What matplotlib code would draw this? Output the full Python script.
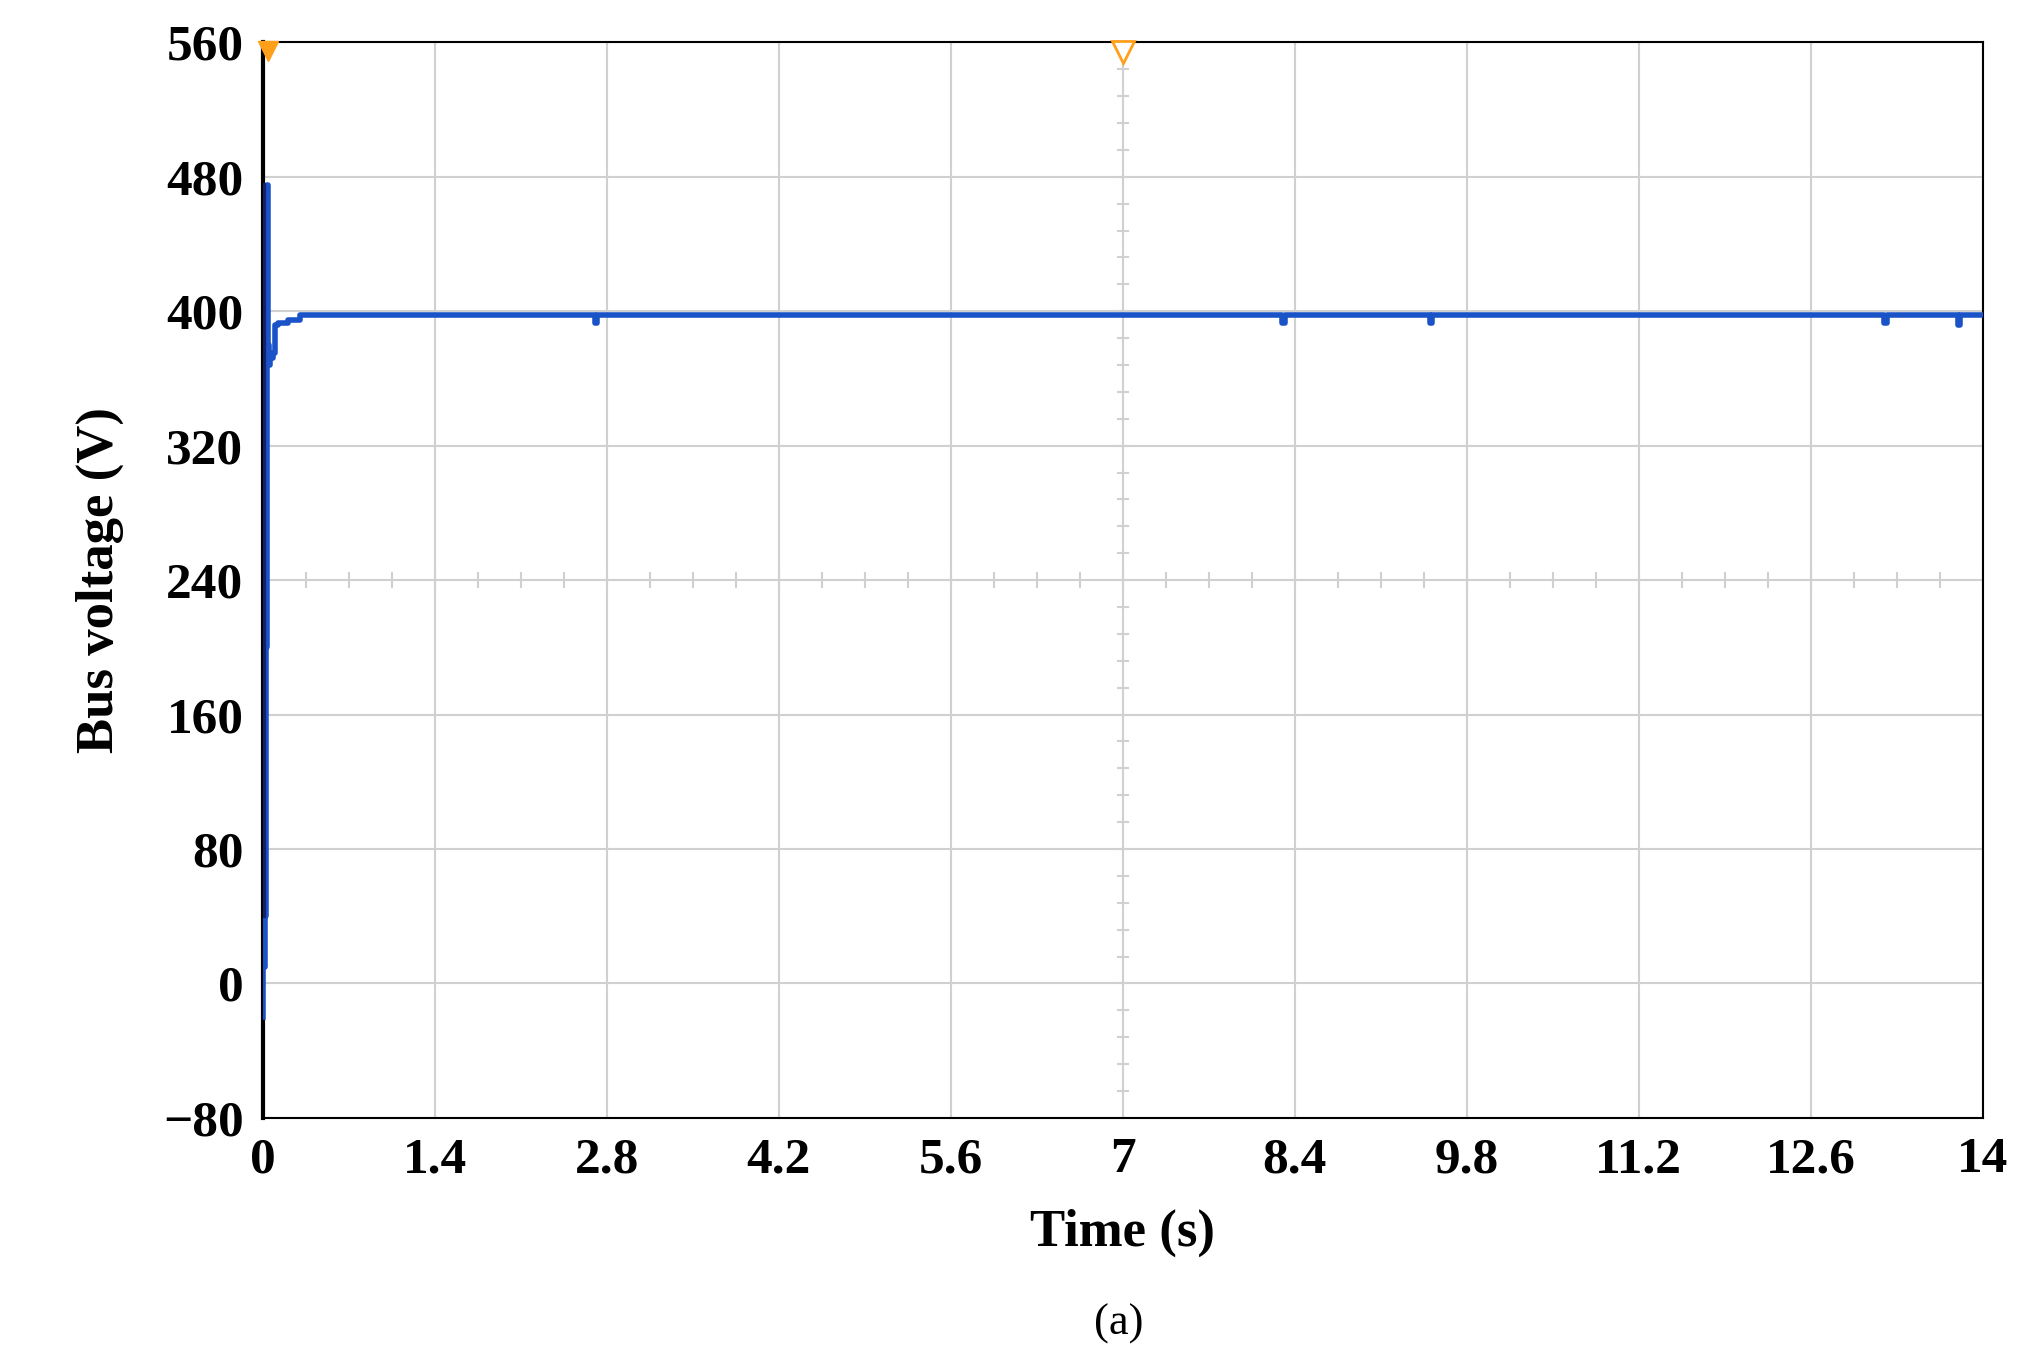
import matplotlib
matplotlib.use("Agg")
import matplotlib.pyplot as plt
import numpy as np

t = [0.0, 0.0, 0.02, 0.025, 0.03, 0.04, 0.05, 0.06, 0.08, 0.1, 0.12, 0.2, 0.3, 0.35, 2.7, 2.72, 8.3, 8.32, 9.5, 9.52, 13.2, 13.22, 13.8, 13.82, 14.0]
v = [-20.0, 10.0, 40.0, 200.0, 475.0, 380.0, 368.0, 372.0, 375.0, 392.0, 393.0, 395.0, 398.0, 398.0, 393.0, 398.0, 393.0, 398.0, 393.0, 398.0, 393.0, 398.0, 392.0, 398.0, 398.0]
xticks = [0, 1.4, 2.8, 4.2, 5.6, 7, 8.4, 9.8, 11.2, 12.6, 14]
xlabels = ["0", "1.4", "2.8", "4.2", "5.6", "7", "8.4", "9.8", "11.2", "12.6", "14"]
yticks = [-80, 0, 80, 160, 240, 320, 400, 480, 560]
ylabels = ["\u221280", "0", "80", "160", "240", "320", "400", "480", "560"]

plt.rcParams['font.family'] = ['Liberation Serif', 'DejaVu Serif']
fig = plt.figure(figsize=(20.23, 13.65), dpi=100)
ax = fig.add_axes([0.130, 0.181, 0.850, 0.788])
ax.set_xlim(0, 14)
ax.set_ylim(-80, 560)
ax.grid(True, color="#d0d0d0", lw=1.5)
ax.set_axisbelow(True)
for yy in np.arange(-80, 561, 16):
    ax.plot([6.96, 7.04], [yy, yy], color="#d0d0d0", lw=1.5, zorder=1)
for xx in np.arange(0, 14.01, 0.35):
    ax.plot([xx, xx], [236, 244], color="#d0d0d0", lw=1.5, zorder=1)
ax.step(t, v, where="post", color="#1a52c8", lw=4, zorder=3)
ax.plot([0.01, 0.01], [40, 475], color="#10206a", lw=3, zorder=4)
ax.plot([0.04], [555], marker="v", color="#ff9f1a", ms=14, clip_on=False, zorder=5)
ax.plot([7], [554], marker="v", mfc="white", mec="#ff9f1a", mew=2, ms=16, clip_on=False, zorder=5)
ax.set_xticks(xticks)
ax.set_xticklabels(xlabels)
ax.set_yticks(yticks)
ax.set_yticklabels(ylabels)
ax.tick_params(length=0, labelsize=37, pad=14)
for lab in ax.get_xticklabels() + ax.get_yticklabels():
    lab.set_fontweight("bold")
for s in ax.spines.values():
    s.set_linewidth(1.5)
ax.spines["left"].set_linewidth(3)
ax.set_xlabel("Time (s)", fontsize=38, fontweight="bold", labelpad=18)
ax.set_ylabel("Bus voltage (V)", fontsize=38, fontweight="bold", labelpad=28)
fig.text(0.553, 0.022, "(a)", fontsize=32, ha="center")
fig.savefig("out.png", dpi=100)
